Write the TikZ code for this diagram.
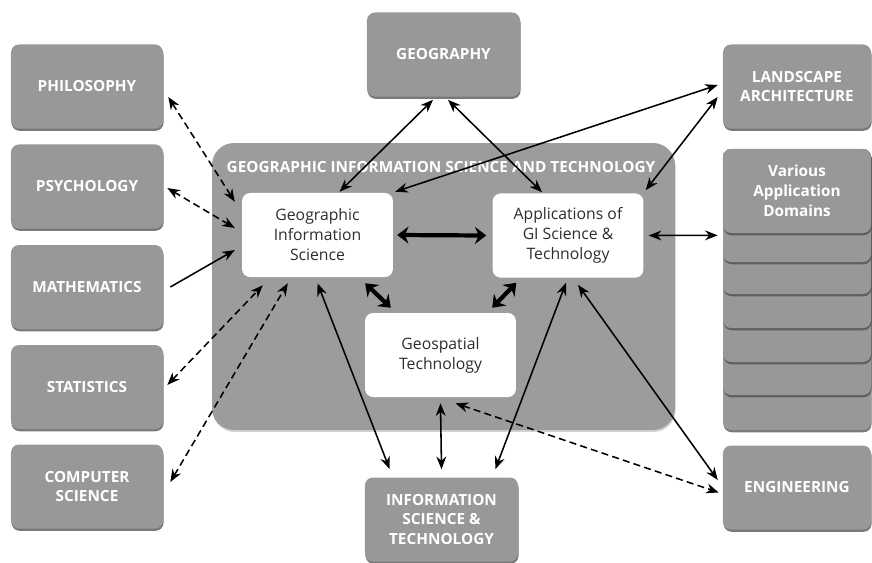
\documentclass[tikz,border=0pt]{standalone}
\usepackage{fontspec}
\setmainfont{Open Sans}
\usetikzlibrary{calc,positioning,shapes,arrows.meta,shadows}
\definecolor{boxgray}{RGB}{152,152,152}
\definecolor{panelgray}{RGB}{156,156,156}
\definecolor{inktext}{RGB}{45,45,45}

\begin{document}
\begin{tikzpicture}
  [x=0.025cm, y=-0.025cm,
   every node/.style={inner sep=0pt},
   card/.style={fill=boxgray, rounded corners=0.2cm,
     drop shadow={shadow xshift=0.4pt, shadow yshift=-1.6pt, opacity=0.75,
       fill=black!70}},
   discipline/.style={card, rectangle, text=white, align=center,
     font=\fontsize{10.9}{14.2}\selectfont\bfseries,
     minimum width=3.8cm, minimum height=2.1cm},
   gistbox/.style={rectangle, fill=white, rounded corners=0.2cm, text=inktext,
     align=center, font=\fontsize{11.2}{14.2}\selectfont,
     minimum width=3.77cm, minimum height=2.1cm},
   link/.style={<->, >={Stealth[length=9pt,width=7pt]}, line width=1.1pt},
   weak/.style={link, dash pattern=on 5pt off 3pt},
   bond/.style={<->, >={Stealth[length=8pt,width=12pt]}, line width=3pt}]

  \useasboundingbox (0,0) rectangle (872,562);

  % the big panel
  \path [fill=panelgray, rounded corners=0.55cm,
    drop shadow={shadow xshift=0.4pt, shadow yshift=-1.4pt, opacity=0.35}]
    (212,143) rectangle (675,430);
  \node [text=white, font=\fontsize{10.9}{13}\selectfont\bfseries] (title)
    at (441,167) {GEOGRAPHIC INFORMATION SCIENCE AND TECHNOLOGY};

  \node [gistbox] (gis) at (317.5,235) {Geographic\\Information\\Science};
  \node [gistbox] (apps) at (568,235.5) {Applications of\\GI Science \&\\Technology};
  \node [gistbox] (geo) at (440.5,355) {Geospatial\\Technology};

  % left column
  \node [discipline] (philo) at (87,86.5) {PHILOSOPHY};
  \node [discipline] (psych) at (87,186.5) {PSYCHOLOGY};
  \node [discipline] (math) at (87,287) {MATHEMATICS};
  \node [discipline] (stats) at (87,387) {STATISTICS};
  \node [discipline] (cs) at (87,486.5) {COMPUTER\\SCIENCE};

  \node [discipline, minimum width=3.825cm] (geog) at (443.5,54.5) {GEOGRAPHY};
  \node [discipline, minimum width=3.825cm] (ist) at (441.5,519.5)
    {INFORMATION\\SCIENCE \&\\TECHNOLOGY};

  % right column
  \node [discipline, minimum width=3.7cm] (land) at (797,86.5)
    {LANDSCAPE\\ARCHITECTURE};
  \foreach \bottom in {430,395,362,328,294,262}
    \path [card] (723,149) rectangle (871,\bottom);
  \node [discipline, minimum width=3.7cm] (various) at (797,191)
    {Various\\Application\\Domains};
  \node [discipline, minimum width=3.7cm] (eng) at (797,487.5) {ENGINEERING};

  % connections
  \draw [weak] ($(philo.east)+(5,10.5)$) -- ($(gis.north west)+(-7,9)$);
  \draw [weak] ($(psych.east)+(4,1.5)$) -- ($(gis.west)+(-7,-7)$);
  \draw [link, ->] ($(math.east)+(7,0)$) -- ($(gis.west)+(-7,15)$);
  \draw [weak] ($(stats.east)+(4,-2)$) -- ($(gis.south west)+(21,8)$);
  \draw [weak] ($(cs.east)+(7,-4.5)$) -- ($(gis.south west)+(46,6)$);

  \draw [link] ($(gis.south)+(0,6)$) -- ($(ist.north west)+(25,-8)$);
  \draw [link] ($(geo.south)+(0,6)$) -- ($(ist.north)+(0,-8)$);
  \draw [link] ($(apps.south)+(-2,5)$) -- ($(ist.north east)+(-23,-8)$);
  \draw [link] ($(apps.south)+(10,7)$) -- ($(eng.west)+(-5,-7.5)$);
  \draw [weak] ($(geo.south)+(15,6)$) -- ($(eng.west)+(-4,5)$);

  \draw [bond] ($(gis.east)+(4,0)$) -- ($(apps.west)+(-6,0)$);
  \draw [bond] ($(gis.south east)+(-28,6)$) -- ($(geo.north west)+(26,-5)$);
  \draw [bond] ($(apps.south west)+(24,5)$) -- ($(geo.north east)+(-24,-5)$);

  \draw [link] ($(apps.east)+(5,0)$) -- ($(various.south west)+(-5,2)$);
  \draw [link] ($(geog.south)+(-10.5,3)$) -- ($(gis.north)+(22,-1)$);
  \draw [link] ($(geog.south)+(4.5,3)$) -- ($(apps.north)+(-26,-1)$);
  \draw [link] ($(gis.north east)+(2,-1)$) -- ($(land.west)+(-5,-1.5)$);
  \draw [link] ($(apps.north east)+(2,-3)$) -- ($(land.west)+(-5,10.5)$);

\end{tikzpicture}
\end{document}
